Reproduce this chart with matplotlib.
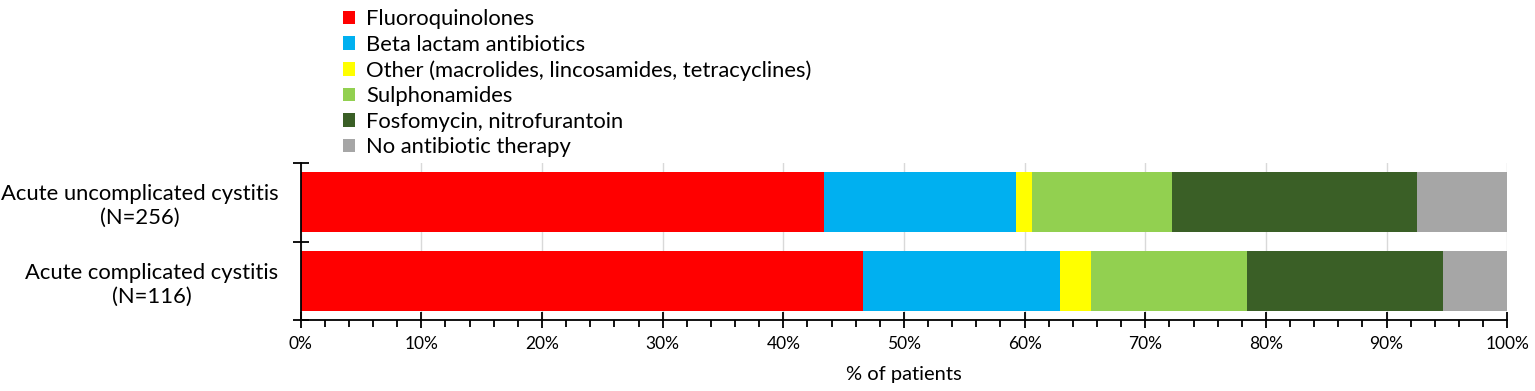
import matplotlib.pyplot as plt
import numpy as np
from matplotlib.ticker import MultipleLocator, FuncFormatter, FixedLocator

plt.rcParams['font.family'] = ['Lato', 'DejaVu Sans']

groups = ['Acute uncomplicated cystitis\n(N=256)', 'Acute complicated cystitis\n(N=116)']
classes = ['Fluoroquinolones', 'Beta lactam antibiotics',
           'Other (macrolides, lincosamides, tetracyclines)', 'Sulphonamides',
           'Fosfomycin, nitrofurantoin', 'No antibiotic therapy']
uncomplicated = [43.4, 15.9, 1.3, 11.6, 20.3, 7.5]
complicated = [46.6, 16.3, 2.6, 12.9, 16.3, 5.3]
colors = ['#FF0000', '#00B0F0', '#FFFF00', '#92D050', '#3A5F26', '#A6A6A6']

fig = plt.figure(figsize=(15.35, 3.91), dpi=100)
ax = fig.add_axes([0.1959, 0.1816, 0.786, 0.4015])

data = np.array([uncomplicated, complicated])
ypos = np.array([1.5, 0.5])
left = np.zeros(2)
handles = []
for i, name in enumerate(classes):
    b = ax.barh(ypos, data[:, i], left=left, height=0.76, color=colors[i],
                label=name, zorder=2)
    handles.append(b)
    left += data[:, i]

ax.set_xlim(0, 100)
ax.set_ylim(0, 2)
ax.xaxis.set_major_locator(MultipleLocator(10))
ax.xaxis.set_minor_locator(MultipleLocator(2))
ax.xaxis.set_major_formatter(FuncFormatter(lambda v, p: f'{v:.0f}%'))
ax.tick_params(axis='x', which='major', direction='inout', length=11, width=1.3,
               labelsize=12.5, pad=6)
ax.tick_params(axis='x', which='minor', direction='out', length=5, width=1.3)
ax.grid(axis='x', color='#D9D9D9', linewidth=1, zorder=0)

ax.yaxis.set_major_locator(FixedLocator([0, 1, 2]))
ax.yaxis.set_major_formatter(FuncFormatter(lambda v, p: ''))
ax.yaxis.set_minor_locator(FixedLocator(ypos))
ax.set_yticklabels(groups, minor=True, multialignment='center', linespacing=1.25)
ax.tick_params(axis='y', which='major', direction='inout', length=12, width=1.3)
ax.tick_params(axis='y', which='minor', length=0, labelsize=15.8, pad=16)

for s in ['top', 'right']:
    ax.spines[s].set_visible(False)
for s in ['left', 'bottom']:
    ax.spines[s].set_linewidth(1.3)

ax.set_xlabel('% of patients', fontsize=14.5, labelpad=10)

fig.legend(handles=handles, labels=classes, loc='upper left',
           bbox_to_anchor=(0.215, 1.01), frameon=False, fontsize=15.8,
           handlelength=0.55, handleheight=0.55, handletextpad=0.5,
           labelspacing=0.25, borderaxespad=0.2)

fig.savefig('out.png', dpi=100)
